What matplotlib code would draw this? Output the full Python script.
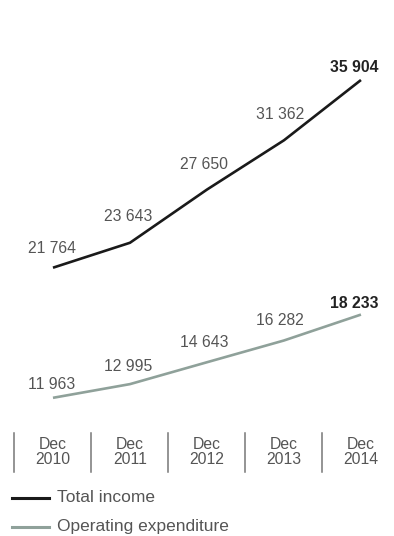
import matplotlib.pyplot as plt
from matplotlib.lines import Line2D

plt.rcParams['font.family'] = ['Liberation Sans', 'DejaVu Sans']

years = ['2010', '2011', '2012', '2013', '2014']
total_income = [21764, 23643, 27650, 31362, 35904]
operating_exp = [11963, 12995, 14643, 16282, 18233]
income_labels = ['21 764', '23 643', '27 650', '31 362', '35 904']
opex_labels = ['11 963', '12 995', '14 643', '16 282', '18 233']

black = '#1a1a1a'
green = '#8fa19a'
grey_txt = '#555555'

fig = plt.figure(figsize=(3.94, 5.36), dpi=100)
ax = fig.add_axes([0, 0, 1, 1])
ax.set_xlim(-0.688, 4.429)
ax.set_ylim(1554, 41930)
ax.axis('off')

x = list(range(len(years)))
ax.plot(x, total_income, color=black, lw=1.9, solid_capstyle='butt')
ax.plot(x, operating_exp, color=green, lw=1.9, solid_capstyle='butt')

# label offsets in pixels (dx, dy) above each point
dx = [-1, -2, -3, -4, -7]
dy_inc = [15, 22, 21, 21, 8]
dy_exp = [9, 13, 15, 15, 7]

for i in x:
    last = i == len(x) - 1
    for vals, labs, dys in [(total_income, income_labels, dy_inc),
                            (operating_exp, opex_labels, dy_exp)]:
        ax.annotate(labs[i], xy=(i, vals[i]), xytext=(dx[i], dys[i]),
                    textcoords='offset pixels', ha='center', va='baseline',
                    fontsize=11.3, color='#222222' if last else grey_txt,
                    fontweight='bold' if last else 'normal')

# category separators and labels
for i in x:
    ax.axvline(i - 0.5, ymin=0.119, ymax=0.192, color='#777777', lw=1.1)
    ax.text(i, 0.157, 'Dec\n' + years[i], transform=ax.get_xaxis_transform(),
            ha='center', va='center', fontsize=11.3, color=grey_txt,
            linespacing=0.95)

# legend
for y_px, col, name in [(498, black, 'Total income'),
                        (527, green, 'Operating expenditure')]:
    yf = 1 - y_px / 536
    fig.add_artist(Line2D([12 / 394, 49 / 394], [yf, yf], color=col, lw=2.2,
                          transform=fig.transFigure))
    fig.text(57 / 394, yf, name, ha='left', va='center', fontsize=12.5,
             color=grey_txt)

plt.savefig('out.png', dpi=100)
